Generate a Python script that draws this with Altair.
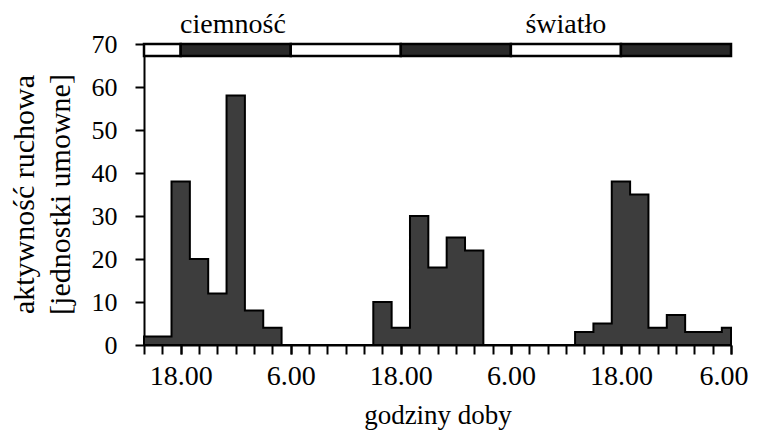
import altair as alt
import pandas as pd

# Histogram bins (hours, starting 14:00 on day 1) and activity values
bin_edges = [14, 17, 19, 21, 23, 25, 27, 29, 39, 41, 43, 45, 47, 49, 51, 61, 63, 65, 67, 69, 71, 73, 77, 78]
activity = [2, 38, 20, 12, 58, 8, 4, 0, 10, 4, 30, 18, 25, 22, 0, 3, 5, 38, 35, 4, 7, 3, 4]

# Light / dark phases
phase_start = [14, 18, 30, 42, 54, 66]
phase_end = [18, 30, 42, 54, 66, 78]
phase_kind = ["light", "dark", "light", "dark", "light", "dark"]

label_text = ["ciemność", "światło"]
label_hour = [23.7, 60]

x_minor_ticks = list(range(14, 79, 2))
x_label_ticks = [18, 30, 42, 54, 66, 78]
y_ticks = [0, 10, 20, 30, 40, 50, 60, 70]

FONT = "Liberation Serif"

hist = pd.DataFrame({"hour": bin_edges, "value": activity + [activity[-1]]})
phases = pd.DataFrame({"start": phase_start, "end": phase_end, "kind": phase_kind})
labels = pd.DataFrame({"hour": label_hour, "label": label_text})

xscale = alt.Scale(domain=[14, 78], nice=False, zero=False)
yscale = alt.Scale(domain=[0, 70], nice=False)

common = dict(grid=False, domainColor="black", domainWidth=2, tickColor="black", tickWidth=2)

xaxis_labels = alt.Axis(
    orient="bottom", values=x_label_ticks,
    labelExpr="(datum.value % 24) === 18 ? '18.00' : '6.00'",
    labelOverlap=False, labelFlush=True, labelFlushOffset=17, labelBound=False,
    labelFont=FONT, labelFontSize=28, labelPadding=8, labelColor="black",
    title="godziny doby", titleFont=FONT, titleFontSize=27, titleFontWeight="normal",
    titleColor="black", titleBaseline="alphabetic", titleY=78, titleX=293.5,
    tickSize=9, domain=True, **common,
)
xaxis_minor = alt.Axis(
    orient="bottom", values=x_minor_ticks, labels=False, title=None, tickSize=9,
    domain=False, grid=False, tickColor="black", tickWidth=2,
)
yaxis = alt.Axis(
    orient="left", values=y_ticks, labelFont=FONT, labelFontSize=26, labelPadding=18,
    labelColor="black",
    title=["aktywność ruchowa", "[jednostki umowne]"], titleFont=FONT, titleFontSize=30,
    titleFontWeight="normal", titleColor="black", titleAngle=-90, titleAlign="center",
    titleBaseline="top", titleX=-135, titleY=150, titleLineHeight=36,
    tickSize=9, **common,
)

area = alt.Chart(hist).mark_area(
    interpolate="step-after", fill="#3d3d3d", stroke="black", strokeWidth=2
).encode(
    x=alt.X("hour:Q", scale=xscale, axis=xaxis_labels),
    y=alt.Y("value:Q", scale=yscale, axis=yaxis),
)

strip = alt.Chart(phases).mark_rect(stroke="black", strokeWidth=2.5).encode(
    x=alt.X("start:Q", scale=xscale, axis=xaxis_minor),
    x2="end:Q",
    y=alt.Y(datum=67.2, scale=yscale, axis=None),
    y2=alt.datum(70),
    fill=alt.Fill("kind:N", scale=alt.Scale(domain=["light", "dark"], range=["white", "#2a2a2a"]), legend=None),
)

text = alt.Chart(labels).mark_text(
    font=FONT, fontSize=28, baseline="alphabetic", color="black", clip=False
).encode(
    x=alt.X("hour:Q", scale=xscale, axis=None),
    y=alt.value(-11),
    text="label:N",
)

chart = alt.layer(area, strip, text).resolve_axis(
    x="independent", y="independent"
).properties(
    width=587, height=301,
    background="white",
    autosize=alt.AutoSizeParams(type="none"),
    padding={"left": 136, "top": 36, "right": 18, "bottom": 88},
).configure_view(stroke=None).configure_axis(grid=False)

chart.save("out.html", embed_options={"renderer": "svg", "actions": False})
